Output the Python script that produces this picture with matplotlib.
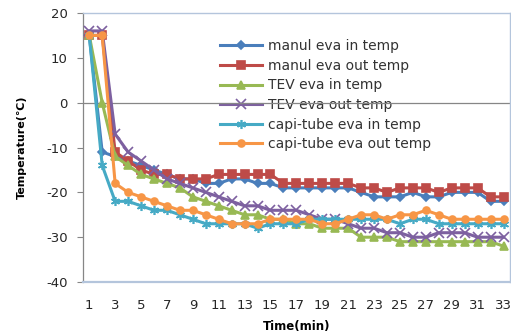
import matplotlib
matplotlib.use("Agg")
import matplotlib.pyplot as plt
import numpy as np

# Time axis (minutes)
minutes = list(range(1, 34))

# Evaporator temperatures (°C)
manul_in = [15, -11, -12, -13, -14, -15, -16, -17, -17, -18, -18, -17, -17, -18, -18, -19,
            -19, -19, -19, -19, -19, -20, -21, -21, -21, -20, -21, -21, -20, -20, -20, -22, -22]
manul_out = [15, 15, -11, -13, -15, -16, -16, -17, -17, -17, -16, -16, -16, -16, -16, -18,
             -18, -18, -18, -18, -18, -19, -19, -20, -19, -19, -19, -20, -19, -19, -19, -21, -21]
tev_in = [15, 0, -12, -14, -16, -17, -18, -19, -21, -22, -23, -24, -25, -25, -26, -26,
          -27, -27, -28, -28, -28, -30, -30, -30, -31, -31, -31, -31, -31, -31, -31, -31, -32]
tev_out = [16, 16, -7, -11, -13, -15, -17, -18, -19, -20, -21, -22, -23, -23, -24, -24,
           -24, -25, -26, -26, -27, -28, -28, -29, -29, -30, -30, -29, -29, -29, -30, -30, -30]
capi_in = [15, -14, -22, -22, -23, -24, -24, -25, -26, -27, -27, -27, -27, -28, -27, -27,
           -27, -26, -26, -26, -26, -26, -26, -26, -27, -26, -26, -27, -27, -27, -27, -27, -27]
capi_out = [15, 15, -18, -20, -21, -22, -23, -24, -24, -25, -26, -27, -27, -27, -26, -26,
            -26, -26, -27, -27, -26, -25, -25, -26, -25, -25, -24, -25, -26, -26, -26, -26, -26]

labels = ["manul eva in temp", "manul eva out temp", "TEV eva in temp",
          "TEV eva out temp", "capi-tube eva in temp", "capi-tube eva out temp"]
y_ticks = [20, 10, 0, -10, -20, -30, -40]
x_tick_labels = [str(m) for m in minutes[::2]]

series = [manul_in, manul_out, tev_in, tev_out, capi_in, capi_out]
colors = ["#4A7EBB", "#BE4B48", "#98B954", "#7D60A0", "#46AAC5", "#F79646"]
markers = ["D", "s", "^", "x", (6, 2, 0), "o"]
msizes = [4.5, 5.5, 5.5, 6.5, 6.5, 5.0]

fig = plt.figure(figsize=(5.11, 3.33), dpi=100)
ax = fig.add_axes([0.162, 0.153, 0.836, 0.808])

for vals, lab, c, m, ms in zip(series, labels, colors, markers, msizes):
    ax.plot(minutes, vals, color=c, lw=2.2, marker=m, markersize=ms,
            markerfacecolor=c, markeredgecolor=c, markeredgewidth=1.2,
            label=lab, zorder=3)

# category axis crossing at zero
ax.axhline(0, color="#868686", lw=0.9, zorder=2)

ax.set_xlim(0.5, 33.5)
ax.set_ylim(-40, 20)
ax.set_yticks(y_ticks)
ax.set_yticklabels([str(v) for v in y_ticks])
ax.set_xticks(minutes[::2])
ax.set_xticklabels(x_tick_labels)

ax.tick_params(axis="y", direction="out", length=4, width=0.8, color="#868686",
               pad=7, labelsize=9.5, labelcolor="#262626")
ax.tick_params(axis="x", length=0, pad=12, labelsize=9.5, labelcolor="#262626")

for side in ["top", "right", "bottom"]:
    ax.spines[side].set_color("#B4C5DC")
    ax.spines[side].set_linewidth(1.0)
ax.spines["bottom"].set_linewidth(1.6)
ax.spines["left"].set_color("#868686")
ax.spines["left"].set_linewidth(0.9)

ax.set_ylabel("Temperature(℃)", fontsize=8, fontweight="bold", labelpad=14)
ax.set_xlabel("Time(min)", fontsize=8.5, fontweight="bold", labelpad=6)

leg = ax.legend(loc="upper left", bbox_to_anchor=(0.322, 0.902), frameon=False,
                fontsize=10, handlelength=3.0, handletextpad=0.4,
                labelspacing=0.4, borderpad=0, borderaxespad=0)
for t in leg.get_texts():
    t.set_color("#333333")
leg.set_zorder(1)

fig.savefig("out.png", dpi=100, facecolor="white")
